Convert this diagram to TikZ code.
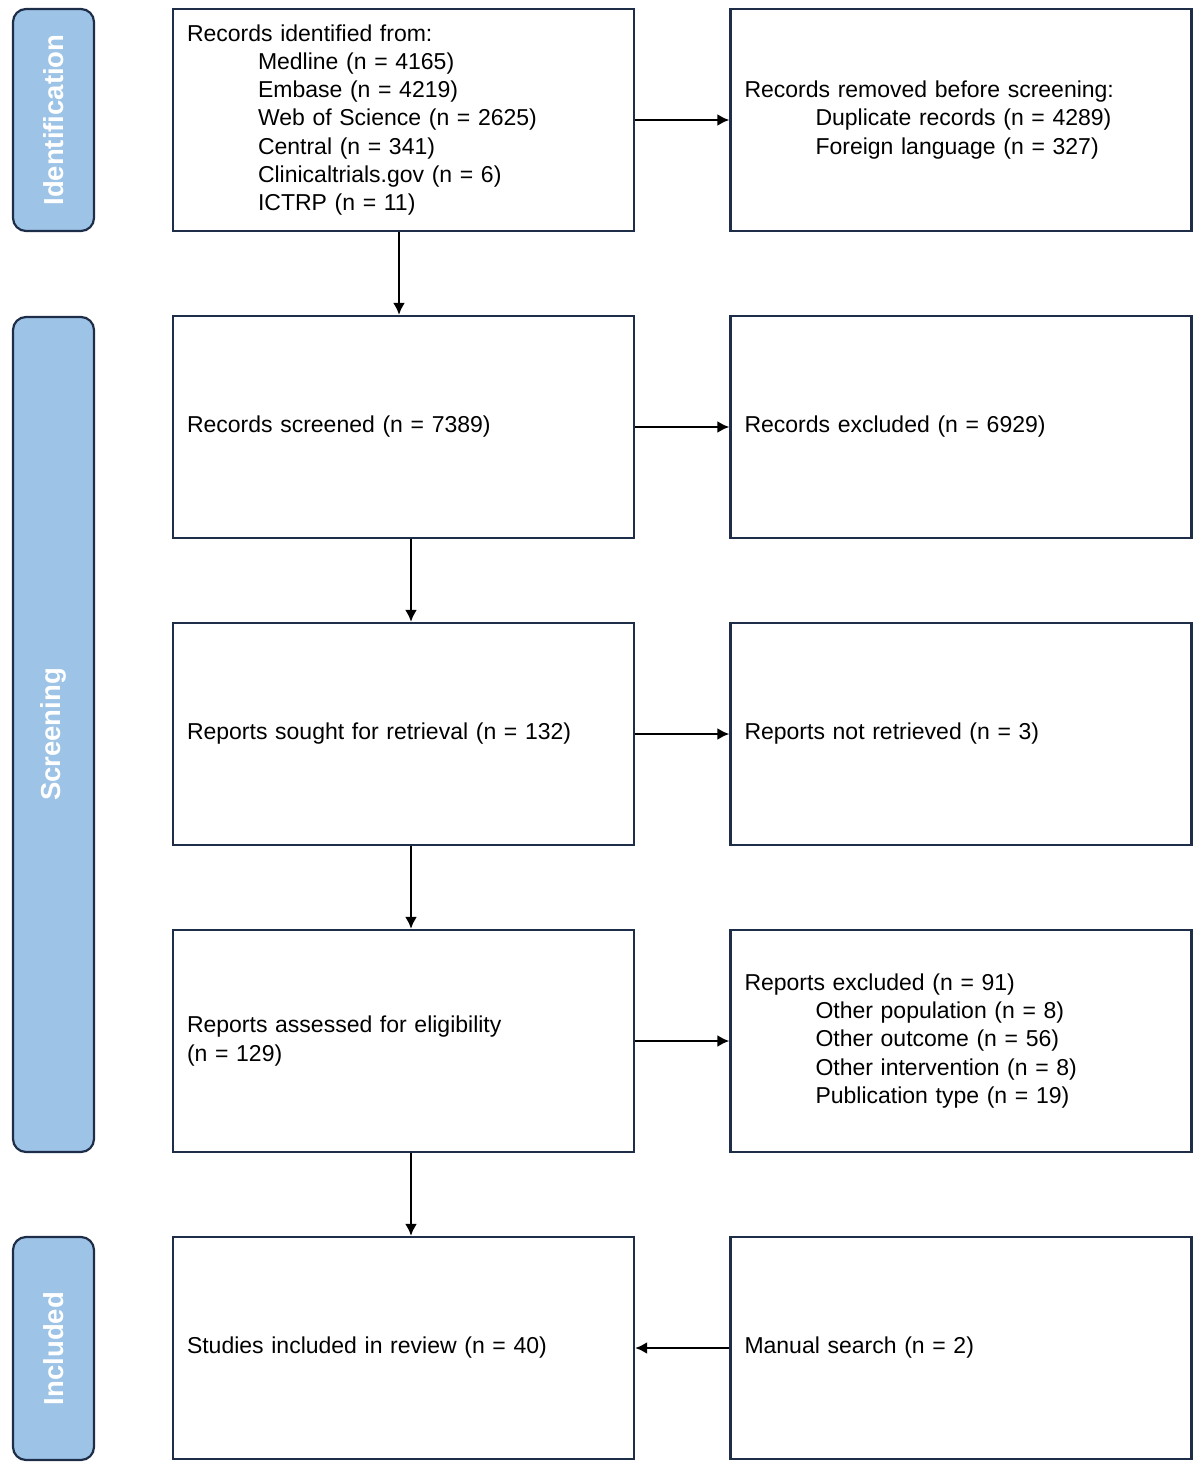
\documentclass[tikz,border=0pt]{standalone}
\usepackage{fontspec}
\setmainfont{Liberation Sans}
\usetikzlibrary{arrows.meta}
\definecolor{navy}{HTML}{1E2D48}
\definecolor{barfill}{HTML}{9DC3E6}
\begin{document}
\begin{tikzpicture}[x=1pt,y=-1pt,
  box/.style={draw=navy, line width=2.2pt, rectangle, minimum width=461pt, minimum height=222pt,
    text width=433pt, inner sep=14pt, align=left, font=\fontsize{23}{28.2}\selectfont},
  bar/.style={draw=navy, fill=barfill, line width=2.2pt, rounded corners=13pt, minimum width=81pt,
    inner sep=0pt},
  barlabel/.style={rotate=90, text=white, font=\fontsize{27.5}{30}\selectfont\bfseries},
  arr/.style={line width=2.4pt, -{Latex[length=12pt,width=12pt]}}]
\useasboundingbox (0,0) rectangle (1200,1471);
% phase bars
\node[bar, minimum height=222pt] (bid) at (53.5,120) {};
\node[barlabel] (lid) at (bid.center) {Identification};
\node[bar, minimum height=835pt] (bsc) at (53.5,734.5) {};
\node[barlabel] (lsc) at (bsc.center) {Screening};
\node[bar, minimum height=223pt] (bin) at (53.5,1348.5) {};
\node[barlabel] (lin) at (bin.center) {Included};
% left column
\node[box] (id) at (403.5,120) {Records identified from:\\
  \hspace*{71pt}Medline (n = 4165)\\
  \hspace*{71pt}Embase (n = 4219)\\
  \hspace*{71pt}Web of Science (n = 2625)\\
  \hspace*{71pt}Central (n = 341)\\
  \hspace*{71pt}Clinicaltrials.gov (n = 6)\\
  \hspace*{71pt}ICTRP (n = 11)};
\node[box] (scr) at (403.5,427) {Records screened (n = 7389)};
\node[box] (sought) at (403.5,734) {Reports sought for retrieval (n = 132)};
\node[box] (elig) at (403.5,1041) {Reports assessed for eligibility\\(n = 129)};
\node[box] (inc) at (403.5,1348) {Studies included in review (n = 40)};
% right column
\node[box] (rem) at (961,120) {Records removed before screening:\\
  \hspace*{71pt}Duplicate records (n = 4289)\\
  \hspace*{71pt}Foreign language (n = 327)};
\node[box] (exc) at (961,427) {Records excluded (n = 6929)};
\node[box] (nret) at (961,734) {Reports not retrieved (n = 3)};
\node[box] (rexc) at (961,1041) {Reports excluded (n = 91)\\
  \hspace*{71pt}Other population (n = 8)\\
  \hspace*{71pt}Other outcome (n = 56)\\
  \hspace*{71pt}Other intervention (n = 8)\\
  \hspace*{71pt}Publication type (n = 19)};
\node[box] (man) at (961,1348) {Manual search (n = 2)};
% connectors
\draw[arr] (id.east) -- (rem.west);
\draw[arr] (scr.east) -- (exc.west);
\draw[arr] (sought.east) -- (nret.west);
\draw[arr] (elig.east) -- (rexc.west);
\draw[arr] (man.west) -- (inc.east);
\coordinate (c1) at (399,0);
\coordinate (c2) at (411,0);
\draw[arr] (id.south -| c1) -- (scr.north -| c1);
\draw[arr] (scr.south -| c2) -- (sought.north -| c2);
\draw[arr] (sought.south -| c2) -- (elig.north -| c2);
\draw[arr] (elig.south -| c2) -- (inc.north -| c2);
\end{tikzpicture}
\end{document}
